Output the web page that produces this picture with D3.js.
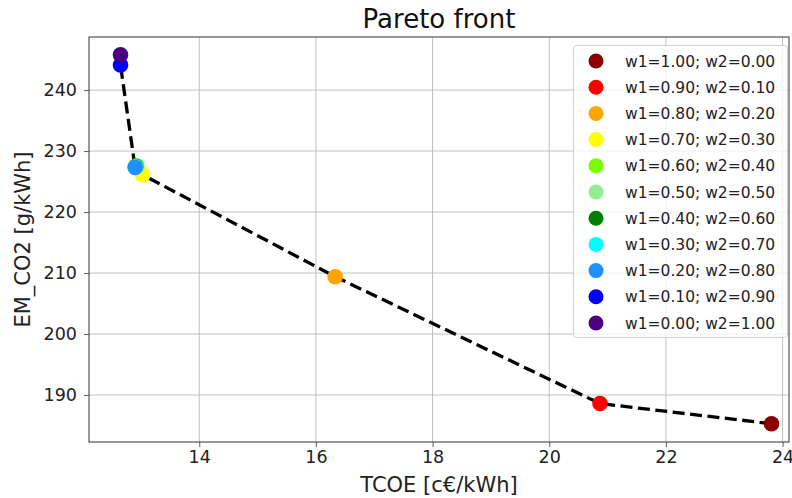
<!DOCTYPE html>
<html>
<head>
<meta charset="utf-8">
<script src="https://cdn.jsdelivr.net/npm/d3@7"></script>
<style>
    body { margin: 0; background: #fff; }
    svg { font-family: "DejaVu Sans", sans-serif; }
    .grid line { stroke: #b0b0b0; stroke-width: 0.8; }
</style>
</head>
<body>
<svg id="chart" width="792" height="498"></svg>
<script>
// weights, ordered w1 = 1.0 ... 0.0
const w1 = [1.0, 0.9, 0.8, 0.7, 0.6, 0.5, 0.4, 0.3, 0.2, 0.1, 0.0];
const tcoe = [23.81, 20.87, 16.33, 13.03, 12.93, 12.92, 12.91, 12.91, 12.90, 12.65, 12.65];
const emCO2 = [185.3, 188.6, 209.4, 226.1, 227.6, 227.5, 227.5, 227.4, 227.3, 244.1, 245.8];
const colors = ["darkred", "red", "orange", "yellow", "lawngreen", "lightgreen",
    "green", "cyan", "dodgerblue", "blue", "indigo"];
const xTicks = [14, 16, 18, 20, 22, 24];
const yTicks = [190, 200, 210, 220, 230, 240];

const svg = d3.select("#chart");
const mLeft = 89, mRight = 789, mTop = 37, mBottom = 442;

const x = d3.scaleLinear().domain([12.11, 24.11]).range([mLeft, mRight]);
const y = d3.scaleLinear().domain([182.3, 248.7]).range([mBottom, mTop]);

// grid
const grid = svg.append("g").attr("class", "grid");
grid.selectAll(".gx").data(xTicks).enter().append("line")
    .attr("x1", d => x(d)).attr("x2", d => x(d))
    .attr("y1", mTop).attr("y2", mBottom);
grid.selectAll(".gy").data(yTicks).enter().append("line")
    .attr("x1", mLeft).attr("x2", mRight)
    .attr("y1", d => y(d)).attr("y2", d => y(d));

// axes
const xAxis = svg.append("g")
    .attr("transform", "translate(0," + mBottom + ")")
    .call(d3.axisBottom(x).tickValues(xTicks).tickSize(5).tickPadding(4));
const yAxis = svg.append("g")
    .attr("transform", "translate(" + mLeft + ",0)")
    .call(d3.axisLeft(y).tickValues(yTicks).tickSize(5).tickPadding(7));
[xAxis, yAxis].forEach(a => {
    a.select(".domain").remove();
    a.selectAll("text").attr("font-size", 17.5).attr("fill", "#222")
        .attr("font-family", "DejaVu Sans");
    a.selectAll("line").attr("stroke", "#333").attr("stroke-width", 0.8);
});

// frame
svg.append("rect")
    .attr("x", mLeft).attr("y", mTop)
    .attr("width", mRight - mLeft).attr("height", mBottom - mTop)
    .attr("fill", "none").attr("stroke", "#333").attr("stroke-width", 1);

// dashed pareto line
const pts = w1.map((w, i) => ({ w: w, x: tcoe[i], y: emCO2[i], c: colors[i] }));
svg.append("path")
    .datum(pts)
    .attr("d", d3.line().x(d => x(d.x)).y(d => y(d.y)))
    .attr("fill", "none")
    .attr("stroke", "black")
    .attr("stroke-width", 3.3)
    .attr("stroke-dasharray", "12,5.5");

svg.append("g").selectAll("circle")
    .data(pts)
    .enter()
    .append("circle")
    .attr("cx", d => x(d.x))
    .attr("cy", d => y(d.y))
    .attr("r", 7.8)
    .attr("fill", d => d.c);

// titles
svg.append("text")
    .attr("x", (mLeft + mRight) / 2).attr("y", 28)
    .attr("text-anchor", "middle")
    .attr("font-size", 26)
    .attr("fill", "#111")
    .text("Pareto front");
svg.append("text")
    .attr("x", (mLeft + mRight) / 2).attr("y", 492)
    .attr("text-anchor", "middle")
    .attr("font-size", 21)
    .attr("fill", "#222")
    .text("TCOE [c€/kWh]");
svg.append("text")
    .attr("transform", "translate(30," + ((mTop + mBottom) / 2) + ") rotate(-90)")
    .attr("text-anchor", "middle")
    .attr("font-size", 21)
    .attr("fill", "#222")
    .text("EM_CO2 [g/kWh]");

// legend
const legend = svg.append("g");
legend.append("rect")
    .attr("x", 573.5).attr("y", 45.5)
    .attr("width", 214).attr("height", 292)
    .attr("rx", 3)
    .attr("fill", "white").attr("fill-opacity", 0.8)
    .attr("stroke", "#d0d0d0");
const entries = legend.selectAll(".entry")
    .data(pts)
    .enter()
    .append("g")
    .attr("transform", (d, i) => "translate(0," + (61 + i * 26.2) + ")");
entries.append("circle")
    .attr("cx", 596).attr("cy", 0).attr("r", 7.5)
    .attr("fill", d => d.c);
entries.append("text")
    .attr("x", 625).attr("y", 5.5)
    .attr("font-size", 15.5)
    .attr("fill", "#222")
    .text(d => "w1=" + d.w.toFixed(2) + "; w2=" + (1 - d.w).toFixed(2));
</script>
</body>
</html>
